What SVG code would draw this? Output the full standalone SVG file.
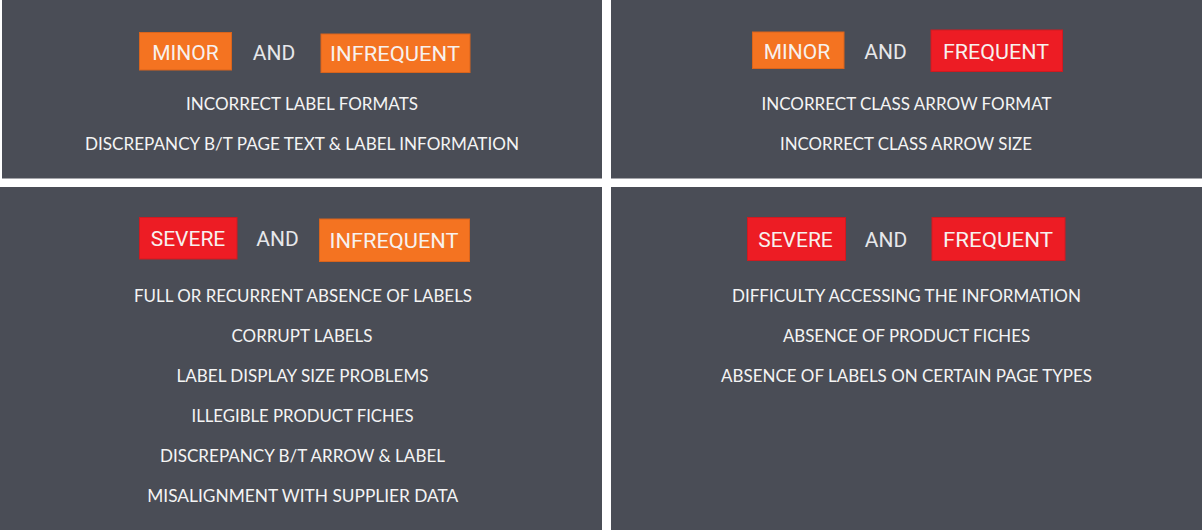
<svg xmlns="http://www.w3.org/2000/svg" width="1202" height="530" viewBox="0 0 1202 530">
  <style>
    .panel { fill: #4a4d56; }
    .orange { fill: #f47321; stroke: #d9641c; stroke-width: 1; }
    .red { fill: #ed1c24; stroke: #cf1a20; stroke-width: 1; }
    .tag { font-family: Roboto, "Liberation Sans", sans-serif; font-size: 21px; fill: #f7f1ee; text-anchor: middle; }
    .and { font-family: Roboto, "Liberation Sans", sans-serif; font-size: 21px; fill: #e6e7ea; text-anchor: middle; }
    .item { font-family: Lato, "Open Sans", "Liberation Sans", sans-serif; font-size: 18px; fill: #f4f4f4; text-anchor: middle; }
  </style>
  <rect x="0" y="0" width="1202" height="530" fill="#ffffff"/>

  <!-- Minor and infrequent -->
  <g id="minor-infrequent">
    <rect class="panel" x="2" y="0" width="600" height="178.5"/>
    <rect class="orange" x="139.5" y="32.5" width="92" height="37.5"/>
    <text class="tag" x="185.5" y="59.5">MINOR</text>
    <text class="and" x="274" y="59.5">AND</text>
    <rect class="orange" x="321" y="34" width="149" height="38.5"/>
    <text class="tag" x="395" y="61" textLength="130" lengthAdjust="spacingAndGlyphs">INFREQUENT</text>
    <text class="item" x="302" y="110" textLength="232" lengthAdjust="spacingAndGlyphs">INCORRECT LABEL FORMATS</text>
    <text class="item" x="302" y="150" textLength="434" lengthAdjust="spacingAndGlyphs">DISCREPANCY B/T PAGE TEXT &amp; LABEL INFORMATION</text>
  </g>

  <!-- Minor and frequent -->
  <g id="minor-frequent">
    <rect class="panel" x="611" y="0" width="591" height="178.5"/>
    <rect class="orange" x="752.5" y="32" width="91.5" height="36.5"/>
    <text class="tag" x="797" y="58.5">MINOR</text>
    <text class="and" x="885.5" y="58.5">AND</text>
    <rect class="red" x="931" y="30" width="131.5" height="41.5"/>
    <text class="tag" x="996" y="58.5" textLength="106" lengthAdjust="spacingAndGlyphs">FREQUENT</text>
    <text class="item" x="906.5" y="110" textLength="290" lengthAdjust="spacingAndGlyphs">INCORRECT CLASS ARROW FORMAT</text>
    <text class="item" x="906" y="150" textLength="252" lengthAdjust="spacingAndGlyphs">INCORRECT CLASS ARROW SIZE</text>
  </g>

  <!-- Severe and infrequent -->
  <g id="severe-infrequent">
    <rect class="panel" x="0" y="187" width="602" height="343"/>
    <rect class="red" x="139.5" y="217.5" width="97.5" height="41.5"/>
    <text class="tag" x="188" y="246">SEVERE</text>
    <text class="and" x="277.5" y="246">AND</text>
    <rect class="orange" x="319.5" y="219" width="150" height="42.5"/>
    <text class="tag" x="394" y="247.5" textLength="129" lengthAdjust="spacingAndGlyphs">INFREQUENT</text>
    <text class="item" x="303" y="301.5" textLength="338" lengthAdjust="spacingAndGlyphs">FULL OR RECURRENT ABSENCE OF LABELS</text>
    <text class="item" x="302" y="341.5" textLength="141" lengthAdjust="spacingAndGlyphs">CORRUPT LABELS</text>
    <text class="item" x="302.5" y="381.5" textLength="252" lengthAdjust="spacingAndGlyphs">LABEL DISPLAY SIZE PROBLEMS</text>
    <text class="item" x="302.5" y="421.5" textLength="222" lengthAdjust="spacingAndGlyphs">ILLEGIBLE PRODUCT FICHES</text>
    <text class="item" x="302.5" y="461.5" textLength="285" lengthAdjust="spacingAndGlyphs">DISCREPANCY B/T ARROW &amp; LABEL</text>
    <text class="item" x="302.8" y="501.5" textLength="311" lengthAdjust="spacingAndGlyphs">MISALIGNMENT WITH SUPPLIER DATA</text>
  </g>

  <!-- Severe and frequent -->
  <g id="severe-frequent">
    <rect class="panel" x="611" y="187" width="591" height="343"/>
    <rect class="red" x="747.5" y="217.5" width="98" height="43"/>
    <text class="tag" x="795.5" y="246.5">SEVERE</text>
    <text class="and" x="886" y="246.5">AND</text>
    <rect class="red" x="932" y="217.5" width="133" height="43"/>
    <text class="tag" x="998" y="246.5" textLength="110" lengthAdjust="spacingAndGlyphs">FREQUENT</text>
    <text class="item" x="906.5" y="301.5" textLength="349" lengthAdjust="spacingAndGlyphs">DIFFICULTY ACCESSING THE INFORMATION</text>
    <text class="item" x="906.5" y="341.5" textLength="247" lengthAdjust="spacingAndGlyphs">ABSENCE OF PRODUCT FICHES</text>
    <text class="item" x="906.5" y="381.5" textLength="371" lengthAdjust="spacingAndGlyphs">ABSENCE OF LABELS ON CERTAIN PAGE TYPES</text>
  </g>

  <!-- No connectors between the panels -->
  <g id="connectors"/>
</svg>
